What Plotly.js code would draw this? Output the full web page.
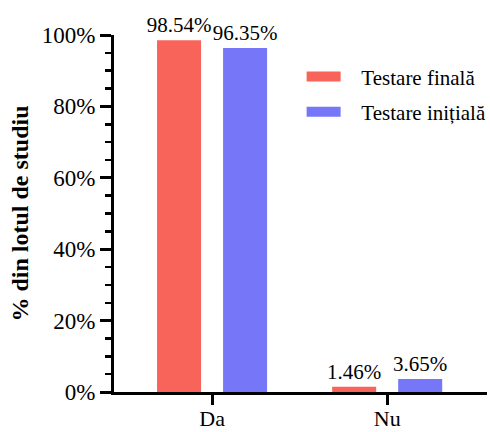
<!DOCTYPE html>
<html>
<head>
<meta charset="utf-8">
<script src="https://cdn.plot.ly/plotly-3.0.1.min.js"></script>
<style>html,body{margin:0;padding:0;background:#fff;}#chart{width:490px;height:432px;}</style>
</head>
<body>
<div id="chart"></div>
<script>
var categories = ["Da", "Nu"];
var finalValues = [98.54, 1.46];
var initialValues = [96.35, 3.65];
var seriesNames = ["Testare finală", "Testare inițială"];
var tickValues = [0, 20, 40, 60, 80, 100];
var tickLabels = ["0%", "20%", "40%", "60%", "80%", "100%"];

var RED = "#F8635A";
var BLUE = "#7676F8";
var FONT = "Liberation Serif";
var PAD = "\u00a0\u00a0\u00a0";

function f(size, extra) {
  return Object.assign({family: FONT, size: size, color: "#000"}, extra || {});
}

var barCommon = {
  type: "bar",
  x: categories,
  texttemplate: "%{y:.2f}%",
  textposition: "outside",
  constraintext: "none",
  cliponaxis: false,
  textfont: f(21),
  outsidetextfont: f(21),
  showlegend: false,
  hoverinfo: "x+y"
};

var traces = [
  Object.assign({}, barCommon, {y: finalValues, name: seriesNames[0], marker: {color: RED}}),
  Object.assign({}, barCommon, {y: initialValues, name: seriesNames[1], marker: {color: BLUE}}),
  {type: "scatter", mode: "lines", x: [null], y: [null], name: PAD + seriesNames[0],
   line: {color: RED, width: 11}, legendgroup: "a", showlegend: true},
  {type: "scatter", mode: "lines", x: [null], y: [null], name: PAD + seriesNames[1],
   line: {color: BLUE, width: 11}, legendgroup: "b", showlegend: true}
];

var layout = {
  width: 490,
  height: 432,
  margin: {l: 114, r: 3, t: 35, b: 40, autoexpand: false},
  paper_bgcolor: "#fff",
  plot_bgcolor: "#fff",
  font: f(21),
  barmode: "group",
  bargap: 0.246,
  bargroupgap: 0.3333,
  xaxis: {
    type: "category",
    automargin: false,
    range: [-0.56, 1.57],
    showline: true,
    linewidth: 3,
    linecolor: "#000",
    ticks: "outside",
    ticklen: 10,
    tickwidth: 3,
    tickcolor: "#000",
    ticklabelstandoff: -5,
    showgrid: false,
    zeroline: false,
    tickfont: f(22),
    fixedrange: true
  },
  yaxis: {
    automargin: false,
    range: [0, 100],
    tickvals: tickValues,
    ticktext: tickLabels,
    showline: true,
    linewidth: 3,
    linecolor: "#000",
    ticks: "outside",
    ticklen: 11,
    tickwidth: 3,
    tickcolor: "#000",
    minor: {dtick: 5, ticks: "outside", ticklen: 6, tickwidth: 2.5, tickcolor: "#000", showgrid: false},
    showgrid: false,
    zeroline: false,
    tickfont: f(23),
    title: {text: "% din lotul de studiu", font: f(24, {weight: "bold"}), standoff: 7},
    fixedrange: true
  },
  legend: {
    x: 0.503,
    y: 0.94,
    xanchor: "left",
    yanchor: "top",
    bgcolor: "rgba(0,0,0,0)",
    font: f(21),
    traceorder: "grouped",
    tracegroupgap: 5,
    itemwidth: 34
  }
};

Plotly.newPlot("chart", traces, layout, {displayModeBar: false, staticPlot: true});
</script>
</body>
</html>
